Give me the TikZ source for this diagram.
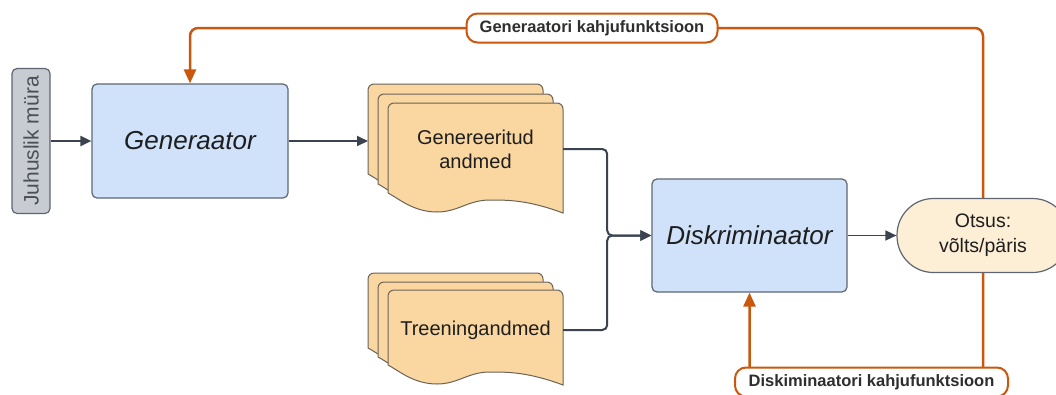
\documentclass[tikz,border=0pt]{standalone}
\usepackage{fontspec}
\setmainfont{Liberation Sans}
\usetikzlibrary{arrows.meta}
\definecolor{bluefill}{HTML}{CFE2FA}
\definecolor{boxline}{HTML}{5F6672}
\definecolor{docfill}{HTML}{FAD7A1}
\definecolor{docline}{HTML}{6B6357}
\definecolor{otsfill}{HTML}{FDEFD6}
\definecolor{noisefill}{HTML}{C8CCD2}
\definecolor{noisetext}{HTML}{4A4F57}
\definecolor{orng}{HTML}{C9580E}
\definecolor{conn}{HTML}{3B4350}
\definecolor{txt}{HTML}{1E1E1E}
\definecolor{lbltxt}{HTML}{2E2E2E}
\tikzset{
  procbox/.style={draw=boxline, line width=1.2pt, fill=bluefill, rounded corners=5pt,
    text=txt, font=\fontsize{26}{30}\selectfont\itshape, inner sep=0pt},
  noisebox/.style={draw=boxline, line width=1.2pt, fill=noisefill, rounded corners=5pt,
    text=noisetext, font=\fontsize{21}{24}\selectfont, inner sep=0pt},
  docsheet/.style={draw=docline, line width=1pt, fill=docfill},
  doctext/.style={text=txt, font=\fontsize{20}{24}\selectfont, align=center, inner sep=0pt},
  otsbox/.style={draw=boxline, line width=1.2pt, fill=otsfill, rounded corners=36.5pt,
    text=txt, font=\fontsize{19.5}{25}\selectfont, align=center, inner sep=0pt},
  flow/.style={draw=conn, line width=2pt, rounded corners=5pt, -{Triangle[length=11pt,width=10pt]}},
  lossarrow/.style={draw=orng, line width=2.5pt, rounded corners=8pt, -{Triangle[length=14pt,width=12pt]}},
  losslabel/.style={draw=orng, line width=2pt, fill=white, rounded corners=11pt,
    minimum height=29pt, inner sep=0pt, text=lbltxt, font=\bfseries\fontsize{16.5}{20}\selectfont},
}
\newcommand{\drawsheet}[3]{%
  \path[docsheet] (#1,#2+#3) -- (#1,#2+6) arc[start angle=180,end angle=270,radius=6]
    -- (#1+169,#2) arc[start angle=270,end angle=360,radius=6]
    -- (#1+175,#2+#3+20)
    .. controls (#1+140,#2+#3+7) and (#1+120,#2+#3+7) .. (#1+102,#2+#3+7)
    .. controls (#1+80,#2+#3+7) and (#1+70,#2+#3+19) .. (#1+49,#2+#3+19)
    .. controls (#1+25,#2+#3+19) and (#1+10,#2+#3+5) .. (#1,#2+#3) -- cycle;}
\begin{document}
\begin{tikzpicture}[x=1pt,y=-1pt]
\useasboundingbox (0,0) rectangle (1056,394);
\clip (0,0) rectangle (1056,394);
\fill[white] (0,0) rectangle (1056,394);

% noise and generator
\node[noisebox, rotate=90, minimum width=145pt, minimum height=38pt] (noise) at (31,141) {Juhuslik müra};
\node[procbox, minimum width=196pt, minimum height=114pt] (gen) at (190,141) {Generaator};

% document stacks
\drawsheet{368}{84}{90}
\drawsheet{378}{94}{90}
\drawsheet{388}{103}{90}
\drawsheet{368}{273}{75}
\drawsheet{378}{282}{75}
\drawsheet{388}{290}{75}
\coordinate (gdin) at (368,141);
\node[doctext, minimum width=175pt] (gd) at (475.5,149) {Genereeritud\\andmed};
\node[doctext, minimum width=175pt] (td) at (475.5,330) {Treeningandmed};

% discriminator and decision
\node[procbox, minimum width=195pt, minimum height=113pt] (disc) at (749.5,235.5) {Diskriminaator};
\node[otsbox, minimum width=172pt, minimum height=74pt] (ots) at (983,235.5) {Otsus:\\võlts/päris};

% flow connectors
\draw[flow] (noise) -- (gen);
\draw[flow] (gen.east) -- (gdin);
\draw[flow] (gd.east) -- ++(44,0) |- (disc.west);
\draw[flow] (td.east) -- ++(44,0) |- (disc.west);
\draw[flow, line width=1.5pt] (disc.east) -- (ots.west);

% loss feedback
\coordinate (tl) at (592,28);
\coordinate (bl) at (871.5,382);
\draw[lossarrow] (ots.north) |- (gen.north |- tl) -- (gen.north);
\draw[lossarrow] (ots.south) |- (disc.south |- bl) -- (disc.south);
\node[losslabel, minimum width=251pt] (toplbl) at (tl) {Generaatori kahjufunktsioon};
\node[losslabel, minimum width=273pt] (botlbl) at (bl) {Diskiminaatori kahjufunktsioon};
\end{tikzpicture}
\end{document}
